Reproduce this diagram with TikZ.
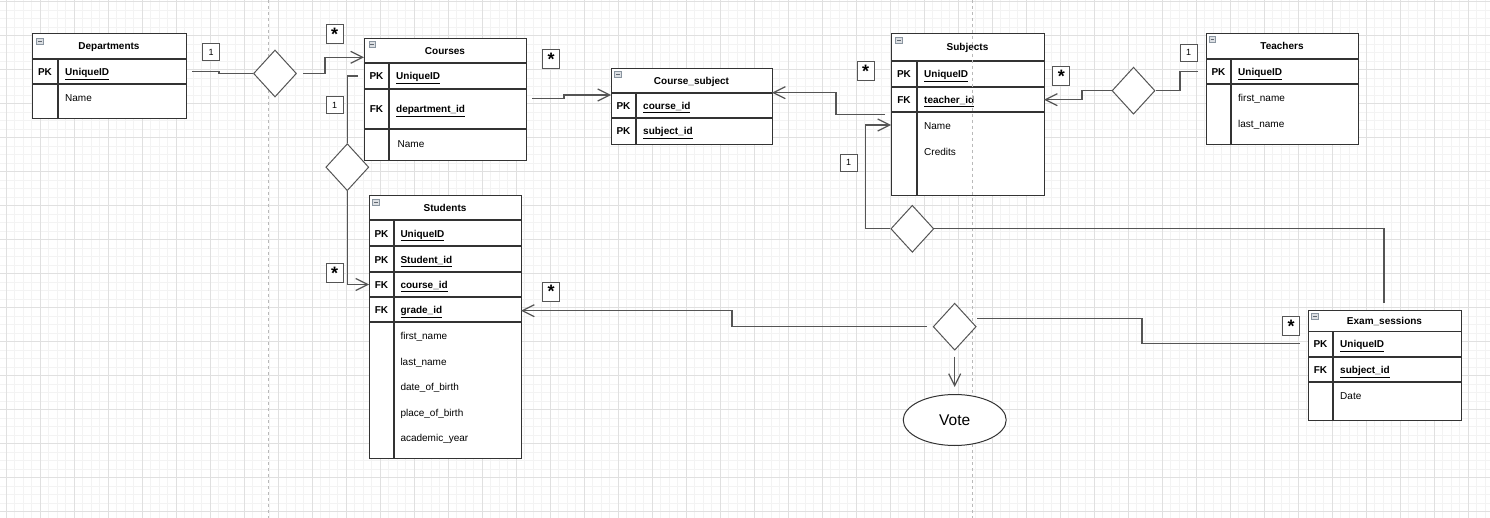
\documentclass[tikz,border=0pt]{standalone}
\usepackage{fontspec}
\setmainfont{Liberation Sans}
\usepackage{tikz}
\usetikzlibrary{arrows.meta,shapes.geometric,positioning}
\tikzset{>={Straight Barb[length=12pt,width=12pt]}}
\definecolor{tblline}{HTML}{333333}
\definecolor{connline}{HTML}{555555}
\definecolor{gridminor}{HTML}{F3F3F3}
\definecolor{gridmajor}{HTML}{E0E0E0}
\definecolor{iconfill}{HTML}{DCDFE3}
\definecolor{iconline}{HTML}{8A95A0}
\tikzset{
  tbl/.style={draw=tblline, line width=1.2pt, fill=white, inner sep=0pt, anchor=north west},
  rowline/.style={draw=tblline, line width=1.2pt},
  ttl/.style={font=\bfseries\fontsize{10}{12}\selectfont, inner sep=0pt, text height=7.2pt, text depth=0pt},
  keycol/.style={font=\bfseries\fontsize{10}{12}\selectfont, inner sep=0pt, text height=7.2pt, text depth=0pt},
  fld/.style={font=\fontsize{10}{12}\selectfont, inner sep=0pt, anchor=west, text height=7.2pt, text depth=0pt},
  keyfld/.style={fld, font=\bfseries\fontsize{10}{12}\selectfont},
  collapse/.style={draw=iconline, fill=iconfill, line width=0.6pt, minimum width=6.5pt, minimum height=6pt, inner sep=0pt,
    path picture={\draw[iconline!70!black, line width=0.7pt] ([xshift=1.3pt]path picture bounding box.west) -- ([xshift=-1.3pt]path picture bounding box.east);}},
  rel/.style={diamond, draw=connline, line width=1pt, fill=white, minimum width=43pt, minimum height=47pt, inner sep=0pt},
  conn/.style={draw=connline, line width=1.2pt},
  mult/.style={draw=connline, line width=1pt, fill=white, minimum width=17pt, minimum height=17pt, inner sep=0pt, font=\fontsize{9}{10}\selectfont},
  many/.style={mult, minimum height=19pt, font=\bfseries\fontsize{18}{18}\selectfont},
  pagebreak/.style={draw=gray!55, line width=0.6pt, dash pattern=on 3pt off 3pt}
}
\newcommand{\keyname}[1]{\underline{#1}}
\begin{document}
\begin{tikzpicture}[x=1pt,y=-1pt]
  \useasboundingbox (0,0) rectangle (1490,518);
  \fill[white] (0,0) rectangle (1490,518);
  % grid
  \foreach \i in {0,...,176} \draw[gridminor, line width=0.6pt] ({6+8.5*(\i-1)},0) -- ({6+8.5*(\i-1)},518);
  \foreach \j in {0,...,61} \draw[gridminor, line width=0.6pt] (0,{1.7+8.5*\j}) -- (1490,{1.7+8.5*\j});
  \foreach \i in {0,...,43} \draw[gridmajor, line width=0.7pt] ({6+34*\i},0) -- ({6+34*\i},518);
  \foreach \j in {0,...,15} \draw[gridmajor, line width=0.7pt] (0,{1.7+34*\j}) -- (1490,{1.7+34*\j});

  % Departments
  \node[tbl, minimum width=154pt, minimum height=85pt] (dep) at (32,33) {};
  \draw[rowline] (32,59) -- (186,59) (32,84) -- (186,84) (58,59) -- (58,118);
  \node[collapse] (dep-c) at (40,41) {};
  \node[ttl] (dep-title) at (109,46) {Departments};
  \node[keycol] (dep-k1) at (45,72) {PK};
  \node[keyfld] (dep-f1) at (65,72) {\keyname{UniqueID}};
  \node[fld] (dep-f2) at (65,97.7) {Name};

  % Courses
  \node[tbl, minimum width=162pt, minimum height=122pt] (crs) at (364,38) {};
  \draw[rowline] (364,63) -- (526,63) (364,89) -- (526,89) (364,129) -- (526,129) (389,63) -- (389,160);
  \node[collapse] (crs-c) at (372.3,44.2) {};
  \node[ttl] (crs-title) at (445,50.5) {Courses};
  \node[keycol] (crs-k1) at (376.5,76) {PK};
  \node[keyfld] (crs-f1) at (396,76) {\keyname{UniqueID}};
  \node[keycol] (crs-k2) at (376.5,109) {FK};
  \node[keyfld] (crs-f2) at (396,109) {\keyname{department\_id}};
  \node[fld] (crs-f3) at (397.5,143.7) {Name};

  % Course_subject
  \node[tbl, minimum width=161pt, minimum height=76pt] (cs) at (611,68) {};
  \draw[rowline] (611,93) -- (772,93) (611,118) -- (772,118) (636,93) -- (636,144);
  \node[collapse] (cs-c) at (618,74) {};
  \node[ttl] (cs-title) at (691.5,80.5) {Course\_subject};
  \node[keycol] (cs-k1) at (623.5,105.5) {PK};
  \node[keyfld] (cs-f1) at (643,105.5) {\keyname{course\_id}};
  \node[keycol] (cs-k2) at (623.5,131) {PK};
  \node[keyfld] (cs-f2) at (643,131) {\keyname{subject\_id}};

  % Subjects
  \node[tbl, minimum width=153pt, minimum height=162pt] (sub) at (891,33) {};
  \draw[rowline] (891,61) -- (1044,61) (891,87) -- (1044,87) (891,112) -- (1044,112) (917,61) -- (917,195);
  \node[collapse] (sub-c) at (899,40.3) {};
  \node[ttl] (sub-title) at (967.5,47) {Subjects};
  \node[keycol] (sub-k1) at (904,74) {PK};
  \node[keyfld] (sub-f1) at (924,74) {\keyname{UniqueID}};
  \node[keycol] (sub-k2) at (904,99.7) {FK};
  \node[keyfld] (sub-f2) at (924,99.7) {\keyname{teacher\_id}};
  \node[fld] (sub-f3) at (924,125.7) {Name};
  \node[fld] (sub-f4) at (924,151.7) {Credits};

  % Teachers
  \node[tbl, minimum width=152pt, minimum height=111pt] (tch) at (1206,33) {};
  \draw[rowline] (1206,59) -- (1358,59) (1206,84) -- (1358,84) (1231,59) -- (1231,144);
  \node[collapse] (tch-c) at (1212.5,39.8) {};
  \node[ttl] (tch-title) at (1282,46) {Teachers};
  \node[keycol] (tch-k1) at (1218.5,71.8) {PK};
  \node[keyfld] (tch-f1) at (1238,71.8) {\keyname{UniqueID}};
  \node[fld] (tch-f2) at (1238,97.7) {first\_name};
  \node[fld] (tch-f3) at (1238,123.7) {last\_name};

  % Students
  \node[tbl, minimum width=152pt, minimum height=263pt] (stu) at (369,195) {};
  \draw[rowline] (369,220) -- (521,220) (369,246) -- (521,246) (369,272) -- (521,272) (369,297) -- (521,297) (369,322) -- (521,322) (394,220) -- (394,458);
  \node[collapse] (stu-c) at (376,202) {};
  \node[ttl] (stu-title) at (445,208) {Students};
  \node[keycol] (stu-k1) at (381.5,233.5) {PK};
  \node[keyfld] (stu-f1) at (400.3,233.5) {\keyname{UniqueID}};
  \node[keycol] (stu-k2) at (381.5,259.5) {PK};
  \node[keyfld] (stu-f2) at (400.3,259.5) {\keyname{Student\_id}};
  \node[keycol] (stu-k3) at (381.5,284.7) {FK};
  \node[keyfld] (stu-f3) at (400.3,284.7) {\keyname{course\_id}};
  \node[keycol] (stu-k4) at (381.5,310.2) {FK};
  \node[keyfld] (stu-f4) at (400.3,310.2) {\keyname{grade\_id}};
  \node[fld] (stu-f5) at (400.3,335.7) {first\_name};
  \node[fld] (stu-f6) at (400.3,361.7) {last\_name};
  \node[fld] (stu-f7) at (400.3,386.7) {date\_of\_birth};
  \node[fld] (stu-f8) at (400.3,412.7) {place\_of\_birth};
  \node[fld] (stu-f9) at (400.3,437.7) {academic\_year};

  % Exam_sessions
  \node[tbl, minimum width=153pt, minimum height=110pt] (ex) at (1308,310) {};
  \draw[rowline] (1308,331.3) -- (1461,331.3) (1308,357) -- (1461,357) (1308,382) -- (1461,382) (1333,331.3) -- (1333,420);
  \node[collapse] (ex-c) at (1314.7,316.2) {};
  \node[ttl] (ex-title) at (1384.5,321) {Exam\_sessions};
  \node[keycol] (ex-k1) at (1320.5,344.3) {PK};
  \node[keyfld] (ex-f1) at (1340,344.3) {\keyname{UniqueID}};
  \node[keycol] (ex-k2) at (1320.5,369.7) {FK};
  \node[keyfld] (ex-f2) at (1340,369.7) {\keyname{subject\_id}};
  \node[fld] (ex-f3) at (1340,396) {Date};

  % page breaks
  \draw[pagebreak] (268,0) -- (268,518);
  \draw[pagebreak] (972,0) -- (972,518);

  % ports
  \coordinate (dep-out) at (192,71.7);
  \coordinate (d1-out) at (303,73.5);
  \coordinate (crs-in) at (364,57.3);
  \coordinate (crs-out) at (358,76);
  \coordinate (stu-in) at (369,284.5);
  \coordinate (crs-fk) at (532,98.7);
  \coordinate (cs-in) at (611,95);
  \coordinate (sub-out) at (885,114.3);
  \coordinate (cs-in2) at (772,92.7);
  \coordinate (sub-fk) at (1044,99.7);
  \coordinate (tch-out) at (1198,71.7);
  \coordinate (sub-in) at (891,125);
  \coordinate (ex-top) at (1384,303);
  \coordinate (d5-l) at (927,326.7);
  \coordinate (stu-in2) at (521,310.7);
  \coordinate (d5-r) at (977,318.7);
  \coordinate (ex-in) at (1300,343.5);
  \coordinate (d5-b) at (954.7,356.7);
  \coordinate (vote-in) at (954.7,387);

  % relationships
  \node[rel] (d1) at (275,73.5) {};
  \node[rel] (d2) at (347.3,167.2) {};
  \node[rel] (d3) at (1133.5,90.7) {};
  \node[rel] (d4) at (912.3,228.8) {};
  \node[rel] (d5) at (954.7,326.7) {};
  \node[ellipse, draw=tblline, line width=1pt, fill=white, minimum width=103pt, minimum height=51pt, inner sep=0pt, font=\fontsize{15.5}{18}\selectfont] (vote) at (954.7,420) {Vote};

  \draw[conn] (dep-out) -- (219,71.7) |- (d1.west);
  \draw[conn,->] (d1-out) -- (325,73.5) |- (crs-in);
  \draw[conn] (crs-out) -| (d2.north);
  \draw[conn,->] (d2.south) |- (stu-in);
  \draw[conn,->] (crs-fk) -- (564,98.7) |- (cs-in);
  \draw[conn,->] (sub-out) -- (836,114.3) |- (cs-in2);
  \draw[conn,->] (d3.west) -- (1082,90.7) |- (sub-fk);
  \draw[conn] (tch-out) -- (1180,71.7) |- (d3.east);
  \draw[conn,->] (d4.west) -- (865.7,228.8) |- (sub-in);
  \draw[conn] (d4.east) -| (ex-top);
  \draw[conn,->] (d5-l) -- (732,326.7) |- (stu-in2);
  \draw[conn] (d5-r) -- (1142,318.7) |- (ex-in);
  \draw[conn,->] (d5-b) -- (vote-in);

  % multiplicities
  \node[mult] (m1) at (211,52.5) {1};
  \node[many] (m2) at (334.5,34.5) {*};
  \node[mult] (m3) at (334.5,105.5) {1};
  \node[many] (m4) at (334.5,273) {*};
  \node[many] (m5) at (551,59) {*};
  \node[many] (m6) at (865.7,71.5) {*};
  \node[mult] (m7) at (848.7,162.7) {1};
  \node[mult] (m8) at (1188.7,52.7) {1};
  \node[many] (m9) at (1061.3,76) {*};
  \node[many] (m10) at (551,291.7) {*};
  \node[many] (m11) at (1291,326.2) {*};
\end{tikzpicture}
\end{document}
